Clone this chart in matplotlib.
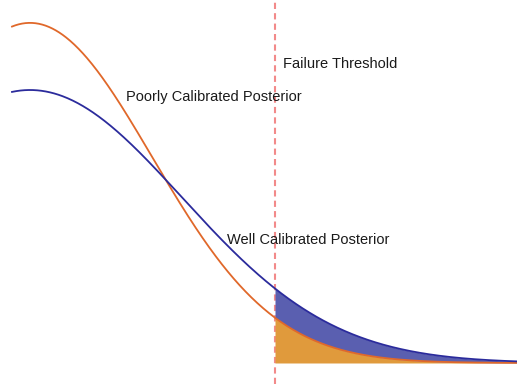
import numpy as np
import matplotlib
matplotlib.use("Agg")
import matplotlib.pyplot as plt

# distribution parameters (x in arbitrary units, mean at 0)
MEAN = 0.0
SIGMA_WELL = 1.52      # well calibrated posterior (blue, wider)
SIGMA_POOR = 1.22      # poorly calibrated posterior (orange, narrower)
THRESHOLD = 2.45       # failure threshold
X_START, X_END = -0.18, 4.87

LABELS = ["Failure Threshold", "Poorly Calibrated Posterior", "Well Calibrated Posterior"]

BLUE_LINE, BLUE_FILL = "#2b2b9c", "#5a5fb0"
ORANGE_LINE, ORANGE_FILL = "#e0682a", "#e09a3c"
RED = "#f28a8a"

def pdf(x, s):
    return np.exp(-(x - MEAN) ** 2 / (2 * s * s)) / (s * np.sqrt(2 * np.pi))

x = np.linspace(X_START, X_END, 600)
yw, yp = pdf(x, SIGMA_WELL), pdf(x, SIGMA_POOR)

fig = plt.figure(figsize=(5.17, 3.84), dpi=100)
ax = fig.add_axes([0, 0, 1, 1]); ax.axis("off")
ax.set_xlim(-0.30, 4.87); ax.set_ylim(-0.0202, 0.349)

ax.axvline(THRESHOLD, color=RED, lw=1.5, ls=(0, (3, 2)), zorder=1)

xr = np.linspace(THRESHOLD, X_END, 300)
ax.fill_between(xr, 0, pdf(xr, SIGMA_POOR), color=ORANGE_FILL, lw=0, zorder=2)
ax.fill_between(xr, pdf(xr, SIGMA_POOR), pdf(xr, SIGMA_WELL), color=BLUE_FILL, lw=0, zorder=2)

ax.plot(x, yp, color=ORANGE_LINE, lw=1.3, zorder=3)
ax.plot(x, yw, color=BLUE_LINE, lw=1.3, zorder=3)

fs = 10.5
fam = ["Liberation Sans", "DejaVu Sans"]
ax.text(2.53, 0.2875, LABELS[0], fontsize=fs, family=fam, color="#1a1a1a", va="center")
ax.text(0.96, 0.2558, LABELS[1], fontsize=fs, family=fam, color="#1a1a1a", va="center")
ax.text(1.97, 0.1185, LABELS[2], fontsize=fs, family=fam, color="#1a1a1a", va="center")

fig.savefig("out.png", dpi=100, facecolor="white")
